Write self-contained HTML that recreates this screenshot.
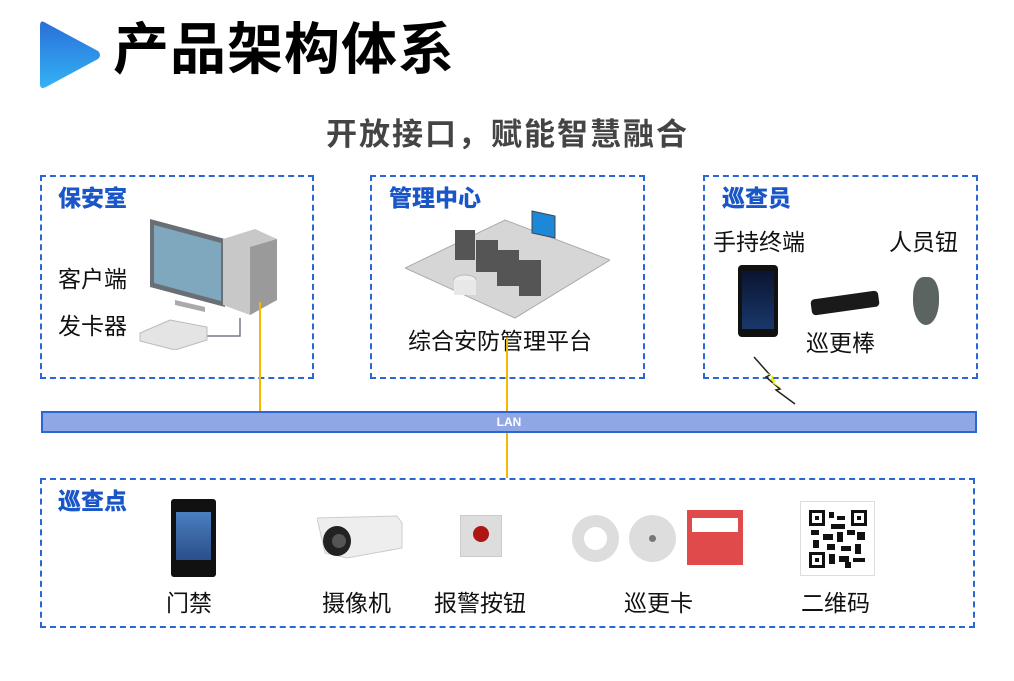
<!DOCTYPE html>
<html><head><meta charset="utf-8"><style>
*{margin:0;padding:0;box-sizing:border-box}
body{width:1014px;height:681px;background:#fff;position:relative;overflow:hidden;font-family:"Liberation Sans","Noto Sans CJK SC",sans-serif}
.a{position:absolute}
.box{position:absolute;border:2px dashed #2a66d6}
.h{position:absolute;color:#1a56c8;font-weight:900;font-size:23px;line-height:24px}
.t{position:absolute;color:#111;font-size:23px;line-height:26px;white-space:nowrap}
.y{position:absolute;width:2px;background:#f5b800}
</style></head><body>
<svg class="a" style="left:38px;top:18px" width="64" height="74"><defs><linearGradient id="g" x1="0" y1="0" x2="0" y2="1"><stop offset="0" stop-color="#2a6fd8"/><stop offset="1" stop-color="#33b3f5"/></linearGradient></defs><path d="M6,4 Q2,2 2,8 L2,66 Q2,72 8,69 L60,41 Q64,37 60,33 Z" fill="url(#g)"/></svg>
<div class="a" style="left:113px;top:17px;font-size:56px;line-height:66px;font-weight:bold;color:#000;letter-spacing:1px">产品架构体系</div>
<div class="a" style="left:326px;top:115px;font-size:31px;line-height:40px;font-weight:bold;color:#444;letter-spacing:2px">开放接口，赋能智慧融合</div>

<div class="box" style="left:40px;top:175px;width:274px;height:204px"></div>
<div class="box" style="left:370px;top:175px;width:275px;height:204px"></div>
<div class="box" style="left:703px;top:175px;width:275px;height:204px"></div>
<div class="box" style="left:40px;top:478px;width:935px;height:150px"></div>

<div class="h" style="left:58px;top:186px">保安室</div>
<div class="h" style="left:389px;top:186px">管理中心</div>
<div class="h" style="left:722px;top:186px">巡查员</div>
<div class="h" style="left:58px;top:489px">巡查点</div>

<!-- PC -->
<svg class="a" style="left:135px;top:215px" width="145" height="135">
<polygon points="15,4 90,24 90,92 15,72" fill="#6a6f75"/><polygon points="19,10 86,28 86,86 19,68" fill="#7fa8bf"/>
<polygon points="40,85 70,92 70,97 40,90" fill="#aaa"/>
<polygon points="88,24 120,14 142,24 142,85 115,100 88,90" fill="#c8c8c8"/><polygon points="115,32 142,24 142,85 115,100" fill="#9a9a9a"/>
<path d="M105,103 V121 H70" stroke="#778" fill="none" stroke-width="1.5"/>
<polygon points="5,118 35,105 72,112 72,125 40,135 5,126" fill="#e4e4e4" stroke="#bbb"/>
</svg>
<div class="t" style="left:58px;top:266px">客户端</div>
<div class="t" style="left:58px;top:313px">发卡器</div>

<!-- mgmt -->
<svg class="a" style="left:405px;top:208px" width="205" height="115">
<polygon points="0,60 100,12 205,52 110,110" fill="#d6d6d6" stroke="#aaa"/>
<rect x="50" y="22" width="20" height="30" fill="#555"/><rect x="71" y="32" width="22" height="32" fill="#555"/>
<rect x="92" y="42" width="22" height="36" fill="#555"/><rect x="114" y="52" width="22" height="36" fill="#555"/>
<ellipse cx="60" cy="72" rx="11" ry="5" fill="#eee" stroke="#bbb"/><rect x="49" y="72" width="22" height="15" fill="#e8e8e8"/>
<polygon points="127,3 150,8 150,30 127,25" fill="#1e88d8" stroke="#444"/>
</svg>
<div class="t" style="left:408px;top:328px">综合安防管理平台</div>

<!-- patroller -->
<div class="t" style="left:713px;top:229px">手持终端</div>
<div class="t" style="left:889px;top:229px">人员钮</div>
<div class="a" style="left:738px;top:265px;width:40px;height:72px;background:#111;border-radius:4px"><div class="a" style="left:4px;top:6px;width:32px;height:58px;background:linear-gradient(#0b1430,#18386a)"></div></div>
<div class="a" style="left:811px;top:295px;width:68px;height:16px;background:#1a1a1a;border-radius:4px;transform:rotate(-8deg)"></div>
<div class="a" style="left:913px;top:277px;width:26px;height:48px;background:#5b6460;border-radius:40% 40% 50% 50%"></div>
<div class="t" style="left:806px;top:330px">巡更棒</div>
<svg class="a" style="left:752px;top:355px" width="45" height="50"><path d="M2,2 L18,20 L14,22 L28,34 L24,35 L43,49" stroke="#222" fill="none" stroke-width="1.5"/><polygon points="14,17 22,22 18,24 30,34 20,28 24,26" fill="#ee0"/></svg>

<!-- LAN -->
<div class="a" style="left:41px;top:411px;width:936px;height:22px;background:#8fa7e4;border:2px solid #2a66d6;color:#fff;font-weight:bold;font-size:12px;text-align:center;line-height:18px">LAN</div>
<div class="y" style="left:259px;top:302px;height:109px"></div>
<div class="y" style="left:506px;top:338px;height:73px"></div>
<div class="y" style="left:506px;top:433px;height:45px"></div>

<!-- bottom devices -->
<div class="a" style="left:171px;top:499px;width:45px;height:78px;background:#111;border-radius:3px"><div class="a" style="left:5px;top:13px;width:35px;height:48px;background:linear-gradient(#4b7fc0,#2a4f8a)"></div></div>
<svg class="a" style="left:317px;top:513px" width="86" height="50"><polygon points="0,5 80,3 85,10 85,35 30,45 8,40" fill="#eee" stroke="#ccc"/><ellipse cx="20" cy="28" rx="14" ry="15" fill="#222"/><circle cx="22" cy="28" r="7" fill="#555"/></svg>
<div class="a" style="left:460px;top:515px;width:42px;height:42px;background:#ddd;border:1px solid #ccc"><div class="a" style="left:12px;top:10px;width:16px;height:16px;border-radius:50%;background:#b01515"></div></div>
<div class="a" style="left:572px;top:515px;width:47px;height:47px;border-radius:50%;background:#ddd"><div class="a" style="left:12px;top:12px;width:23px;height:23px;border-radius:50%;background:#fff"></div></div>
<div class="a" style="left:629px;top:515px;width:47px;height:47px;border-radius:50%;background:#ddd"><div class="a" style="left:20px;top:20px;width:7px;height:7px;border-radius:50%;background:#777"></div></div>
<div class="a" style="left:687px;top:510px;width:56px;height:55px;background:#e04a4a"><div class="a" style="left:5px;top:8px;width:46px;height:14px;background:#fff"></div></div>
<div class="a" style="left:800px;top:501px;width:75px;height:75px;border:1px solid #ddd;background:#fff">
<svg class="a" style="left:8px;top:8px" width="58" height="58"><rect width="58" height="58" fill="#fff"/>
<g fill="#111"><rect x="0" y="0" width="16" height="16"/><rect x="42" y="0" width="16" height="16"/><rect x="0" y="42" width="16" height="16"/></g>
<g fill="#fff"><rect x="3" y="3" width="10" height="10"/><rect x="45" y="3" width="10" height="10"/><rect x="3" y="45" width="10" height="10"/></g>
<g fill="#111"><rect x="6" y="6" width="4" height="4"/><rect x="48" y="6" width="4" height="4"/><rect x="6" y="48" width="4" height="4"/>
<rect x="20" y="2" width="5" height="6"/><rect x="28" y="6" width="8" height="4"/><rect x="22" y="14" width="14" height="5"/><rect x="2" y="20" width="8" height="5"/><rect x="14" y="24" width="10" height="6"/><rect x="28" y="22" width="6" height="10"/><rect x="38" y="20" width="8" height="5"/><rect x="48" y="22" width="8" height="8"/><rect x="4" y="30" width="6" height="8"/><rect x="18" y="34" width="8" height="6"/><rect x="32" y="36" width="10" height="5"/><rect x="46" y="34" width="6" height="10"/><rect x="20" y="44" width="6" height="10"/><rect x="30" y="46" width="10" height="6"/><rect x="44" y="48" width="12" height="4"/><rect x="36" y="52" width="6" height="6"/></g></svg></div>

<div class="t" style="left:166px;top:590px">门禁</div>
<div class="t" style="left:322px;top:590px">摄像机</div>
<div class="t" style="left:434px;top:590px">报警按钮</div>
<div class="t" style="left:624px;top:590px">巡更卡</div>
<div class="t" style="left:801px;top:590px">二维码</div>
</body></html>
